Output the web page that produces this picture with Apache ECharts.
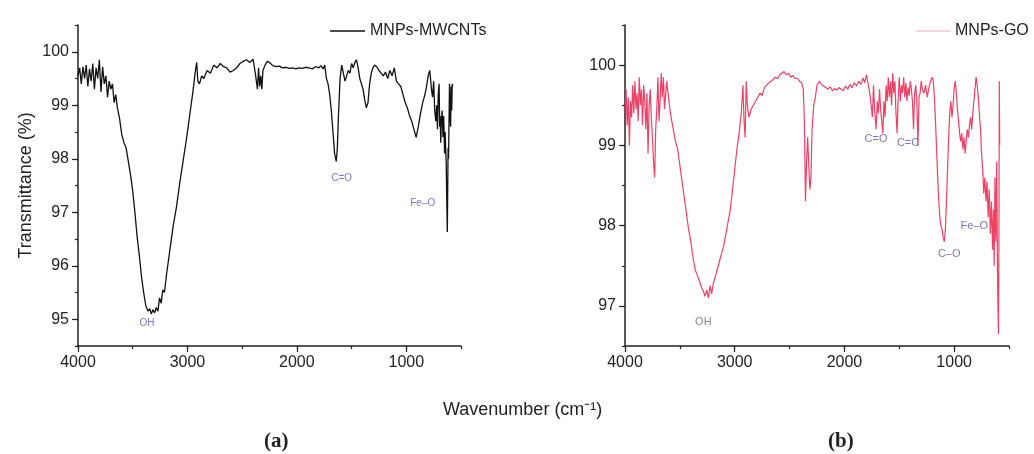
<!DOCTYPE html>
<html><head><meta charset="utf-8">
<script src="https://cdn.jsdelivr.net/npm/echarts@6/dist/echarts.min.js"></script>
<style>html,body{margin:0;padding:0;background:#fff}#c{width:1034px;height:454px}</style>
</head><body><div id="c"></div>
<script>
// ---- Data ----
const xTicks = [4000, 3000, 2000, 1000];
const yTicksA = [95, 96, 97, 98, 99, 100];
const yTicksB = [97, 98, 99, 100];
const seriesNames = ['MNPs-MWCNTs', 'MNPs-GO'];

// (a) MNPs-MWCNTs
const wnA = [
4000,3985,3970,3955,3940,3925,3910,3895,3880,3865,
3850,3835,3820,3805,3790,3775,3760,3745,3730,3715,
3700,3685,3670,3655,3640,3620,3600,3580,3560,3540,
3520,3500,3480,3460,3440,3420,3400,3380,3360,3345,
3330,3315,3300,3285,3270,3255,3240,3225,3210,3190,
3160,3130,3100,3070,3040,3010,2980,2950,2930,2915,
2905,2890,2870,2850,2820,2790,2760,2730,2700,2670,
2640,2610,2580,2550,2520,2490,2460,2430,2400,2380,
2360,2350,2340,2330,2320,2310,2290,2270,2250,2220,
2190,2160,2130,2100,2070,2040,2010,1980,1950,1920,
1890,1860,1830,1800,1780,1760,1745,1730,1715,1700,
1685,1670,1655,1640,1630,1620,1605,1590,1575,1560,
1545,1530,1515,1500,1485,1470,1455,1440,1425,1410,
1395,1380,1365,1350,1335,1320,1305,1290,1270,1250,
1230,1210,1190,1170,1150,1130,1110,1090,1070,1050,
1030,1010,990,970,950,930,910,890,870,850,
830,815,800,785,770,760,750,740,730,722,
715,708,700,695,690,685,680,672,665,658,
650,645,640,635,630,625,622,618,614,610,
605,600,595,590,585,580,575];
const tA = [
99.55,99.70,99.40,99.72,99.50,99.75,99.35,99.68,99.45,99.78,
99.30,99.70,99.50,99.85,99.25,99.72,99.40,99.55,99.15,99.45,
99.30,99.40,99.05,99.20,98.95,98.75,98.45,98.30,98.20,97.95,
97.70,97.40,97.00,96.55,96.20,95.80,95.50,95.25,95.15,95.20,
95.10,95.18,95.12,95.22,95.15,95.40,95.30,95.55,95.50,95.85,
96.30,96.75,97.10,97.55,97.95,98.35,98.80,99.25,99.60,99.80,
99.45,99.40,99.55,99.50,99.65,99.60,99.75,99.70,99.78,99.72,
99.70,99.62,99.65,99.70,99.78,99.82,99.85,99.80,99.86,99.60,
99.30,99.70,99.35,99.55,99.30,99.65,99.75,99.82,99.80,99.74,
99.72,99.73,99.70,99.71,99.69,99.70,99.68,99.70,99.69,99.71,
99.70,99.68,99.72,99.70,99.74,99.68,99.75,99.50,99.40,99.20,
98.90,98.50,98.10,97.95,98.20,98.80,99.50,99.75,99.60,99.45,
99.55,99.65,99.60,99.78,99.70,99.80,99.85,99.70,99.50,99.40,
99.30,99.10,98.95,99.05,99.40,99.60,99.70,99.75,99.72,99.65,
99.60,99.55,99.62,99.50,99.65,99.55,99.70,99.45,99.40,99.35,
99.20,99.05,98.95,98.80,98.70,98.55,98.40,98.60,98.85,99.05,
99.20,99.35,99.55,99.65,99.30,99.15,99.45,98.90,98.70,99.00,
98.55,99.20,99.40,98.60,98.80,98.30,98.70,98.90,98.40,98.80,
98.10,98.50,98.20,97.90,97.20,96.63,97.30,98.20,98.00,98.60,
99.40,98.80,98.60,99.35,98.90,99.40,99.35];

// (b) MNPs-GO
const wnB = [
4000,3990,3980,3970,3960,3950,3940,3930,3920,3910,
3900,3890,3880,3870,3860,3850,3840,3830,3820,3810,
3800,3790,3780,3770,3760,3750,3740,3730,3720,3710,
3700,3690,3680,3670,3660,3650,3640,3620,3600,3580,
3560,3540,3520,3500,3480,3460,3440,3420,3400,3380,
3360,3340,3320,3300,3285,3270,3255,3240,3225,3210,
3195,3180,3160,3140,3120,3100,3080,3060,3040,3020,
3000,2980,2960,2940,2925,2915,2905,2895,2885,2870,
2850,2830,2810,2790,2770,2750,2730,2710,2690,2670,
2650,2630,2610,2590,2570,2550,2530,2510,2490,2470,
2450,2430,2410,2390,2375,2365,2355,2345,2335,2325,
2315,2305,2295,2280,2265,2250,2230,2210,2190,2170,
2150,2130,2110,2090,2070,2050,2030,2010,1990,1970,
1950,1930,1910,1890,1870,1850,1830,1815,1800,1790,
1775,1760,1745,1735,1725,1712,1700,1690,1680,1670,
1660,1650,1640,1630,1620,1610,1600,1590,1580,1570,
1560,1550,1540,1530,1520,1510,1500,1490,1480,1470,
1460,1450,1440,1430,1420,1410,1400,1390,1380,1370,
1360,1350,1340,1330,1320,1310,1300,1290,1275,1260,
1245,1230,1215,1200,1190,1180,1170,1160,1150,1140,
1130,1120,1110,1100,1090,1080,1070,1060,1050,1040,
1030,1020,1010,1000,990,980,970,960,950,940,
930,920,910,900,890,880,870,860,850,840,
830,820,810,800,790,780,770,760,750,740,
730,720,710,700,690,680,670,660,650,642,
635,628,620,612,605,600,596,592,588,585];
const tB = [
99.45,99.70,99.25,99.60,99.00,99.55,99.35,99.75,99.40,99.80,
99.45,99.65,99.30,99.85,99.50,99.70,99.25,99.75,99.55,99.20,
99.65,98.90,99.50,99.70,99.35,99.10,98.80,98.60,99.20,99.45,
99.85,99.30,99.55,99.90,99.60,99.85,99.45,99.80,99.55,99.35,
99.20,99.05,98.95,98.75,98.55,98.35,98.15,97.95,97.80,97.60,
97.45,97.38,97.30,97.22,97.18,97.12,97.20,97.10,97.25,97.15,
97.28,97.35,97.45,97.55,97.65,97.75,97.90,98.05,98.20,98.45,
98.70,98.95,99.15,99.40,99.75,99.30,99.10,99.80,99.50,99.35,
99.45,99.50,99.55,99.60,99.65,99.62,99.72,99.75,99.78,99.80,
99.82,99.85,99.83,99.88,99.90,99.92,99.88,99.90,99.85,99.87,
99.83,99.84,99.80,99.78,99.70,99.30,98.30,98.80,99.10,98.75,
98.45,98.60,99.20,99.50,99.60,99.75,99.80,99.76,99.74,99.72,
99.70,99.73,99.68,99.71,99.69,99.72,99.70,99.68,99.74,99.70,
99.76,99.72,99.78,99.74,99.80,99.76,99.84,99.78,99.88,99.90,
99.70,99.55,99.35,99.75,99.45,99.20,99.55,99.40,99.70,99.45,
99.30,99.15,99.55,99.35,99.75,99.55,99.85,99.60,99.80,99.50,
99.90,99.65,99.80,99.40,99.15,99.60,99.85,99.55,99.75,99.65,
99.85,99.60,99.78,99.55,99.72,99.62,99.80,99.70,99.55,99.20,
99.65,99.75,99.55,99.00,99.60,99.65,99.80,99.70,99.65,99.75,
99.60,99.72,99.80,99.85,99.80,99.60,99.30,98.95,98.60,98.30,
98.10,98.00,97.95,97.85,97.80,97.95,98.30,98.70,99.10,99.40,
99.55,99.35,99.50,99.70,99.80,99.65,99.45,99.30,99.15,99.05,
99.15,98.95,99.10,98.90,99.05,99.20,99.10,99.25,99.35,99.20,
99.40,99.55,99.70,99.85,99.75,99.60,99.40,99.20,98.90,98.70,
98.40,98.60,98.30,98.55,98.10,98.45,97.90,98.30,97.70,98.20,
97.50,98.60,97.80,98.80,97.40,96.95,96.65,97.80,99.80,99.00];

// Peak annotations: label, wavenumber, transmittance
const annLabelsA = ['OH', 'C=O', 'Fe–O'];
const annWnA = [3370, 1590, 850];
const annTA = [94.93, 97.64, 97.17];
const annLabelsB = ['OH', 'C=O', 'C=C', 'C–O', 'Fe–O'];
const annWnB = [3286, 1712, 1420, 1045, 816];
const annTB = [96.80, 99.08, 99.03, 97.65, 98.00];

// ---- Chart ----
const FONT = "'Liberation Sans', Arial, sans-serif";
const AX = '#222';
const zip = (a, b) => a.map((v, i) => [v, b[i]]);
const chart = echarts.init(document.getElementById('c'), null, {renderer: 'canvas'});

// major x axis: labels + long ticks at 1000s
function xAx(gi) {
  return {
    gridIndex: gi, type: 'value', inverse: true, min: 500, max: 4000, interval: 500,
    axisLine: {show: true, onZero: false, lineStyle: {color: AX, width: 1.5}},
    axisTick: {show: true, inside: false, length: 6, customValues: xTicks, lineStyle: {color: AX, width: 1.2}},
    axisLabel: {customValues: xTicks, formatter: v => String(v), fontSize: 16, color: AX, fontFamily: FONT, margin: 9},
    splitLine: {show: false}
  };
}
// minor x axis: short ticks every 500
function xAxMinor(gi) {
  return {
    gridIndex: gi, type: 'value', inverse: true, min: 500, max: 4000, interval: 500, position: 'bottom',
    axisLine: {show: false, onZero: false},
    axisTick: {show: true, inside: false, length: 3, lineStyle: {color: AX, width: 1.2}},
    axisLabel: {show: false}, splitLine: {show: false}
  };
}
function yAx(gi, mn, mx, ticks, name) {
  return {
    gridIndex: gi, type: 'value', min: mn, max: mx, interval: 0.5, position: 'left',
    name: name, nameLocation: 'middle', nameGap: 43,
    nameTextStyle: {fontSize: 18, color: AX, fontFamily: FONT},
    axisLine: {show: true, onZero: false, lineStyle: {color: AX, width: 1.5}},
    axisTick: {show: true, inside: false, length: 6, customValues: ticks, lineStyle: {color: AX, width: 1.2}},
    axisLabel: {customValues: ticks, formatter: v => String(v), fontSize: 16, color: AX, fontFamily: FONT, margin: 9},
    splitLine: {show: false}
  };
}
function yAxMinor(gi, mn, mx) {
  return {
    gridIndex: gi, type: 'value', min: mn, max: mx, interval: 0.5, position: 'left', offset: 0,
    axisLine: {show: false, onZero: false},
    axisTick: {show: true, inside: false, length: 3, lineStyle: {color: AX, width: 1.2}},
    axisLabel: {show: false}, splitLine: {show: false}
  };
}
function annSeries(xi, yi, labels, wns, ts, colors, sizes) {
  return {
    type: 'scatter', xAxisIndex: xi, yAxisIndex: yi, symbolSize: 1, silent: true,
    itemStyle: {color: 'rgba(0,0,0,0)'},
    data: labels.map((l, i) => ({name: l, value: [wns[i], ts[i]],
      label: {show: true, position: 'inside', formatter: '{b}', color: colors[i], fontSize: sizes[i], fontFamily: FONT}})),
    z: 5
  };
}

chart.setOption({
  animation: false,
  backgroundColor: '#fff',
  title: [
    {text: 'Wavenumber (cm⁻¹)', left: 443, top: 401, padding: 0, textStyle: {fontSize: 18, fontWeight: 'normal', color: AX, fontFamily: FONT}},
    {text: '(a)', left: 264, top: 431, padding: 0, textStyle: {fontSize: 21, fontWeight: 'bold', color: AX, fontFamily: "'Liberation Serif', 'DejaVu Serif', serif"}},
    {text: '(b)', left: 828, top: 431, padding: 0, textStyle: {fontSize: 21, fontWeight: 'bold', color: AX, fontFamily: "'Liberation Serif', 'DejaVu Serif', serif"}}
  ],
  legend: [
    {data: [seriesNames[0]], left: 330, top: 23, padding: 0, icon: 'rect', itemWidth: 35, itemHeight: 1.5, itemGap: 5,
     textStyle: {fontSize: 16, color: AX, fontFamily: FONT}},
    {data: [{name: seriesNames[1], itemStyle: {color: '#f7c3cf'}}], left: 916, top: 23, padding: 0, icon: 'rect', itemWidth: 34, itemHeight: 1.5,
     textStyle: {fontSize: 16, color: AX, fontFamily: FONT}}
  ],
  grid: [
    {left: 78, top: 25, width: 383, height: 321},
    {left: 625, top: 25, width: 384, height: 321}
  ],
  // indices: 0 = left major, 1 = right major, 2 = left minor, 3 = right minor
  xAxis: [xAx(0), xAx(1), xAxMinor(0), xAxMinor(1)],
  yAxis: [yAx(0, 94.5, 100.5, yTicksA, 'Transmittance (%)'), yAx(1, 96.5, 100.5, yTicksB, ''),
          yAxMinor(0, 94.5, 100.5), yAxMinor(1, 96.5, 100.5)],
  series: [
    {name: seriesNames[0], type: 'line', xAxisIndex: 0, yAxisIndex: 0, showSymbol: false, data: zip(wnA, tA),
     lineStyle: {color: '#111', width: 1.3}, itemStyle: {color: '#111'}},
    {name: seriesNames[1], type: 'line', xAxisIndex: 1, yAxisIndex: 1, showSymbol: false, data: zip(wnB, tB),
     lineStyle: {color: '#ec2c55', width: 1.2, opacity: 0.9}, itemStyle: {color: '#ec2c55'}},
    annSeries(0, 0, annLabelsA, annWnA, annTA, ['#5555c0', '#5555c0', '#5555c0'], [10, 10, 10]),
    annSeries(1, 1, annLabelsB, annWnB, annTB, ['#666677', '#55559a', '#5555b0', '#5555b0', '#5555b0'], [11, 11, 11, 11, 11])
  ]
});
</script>
</body></html>
